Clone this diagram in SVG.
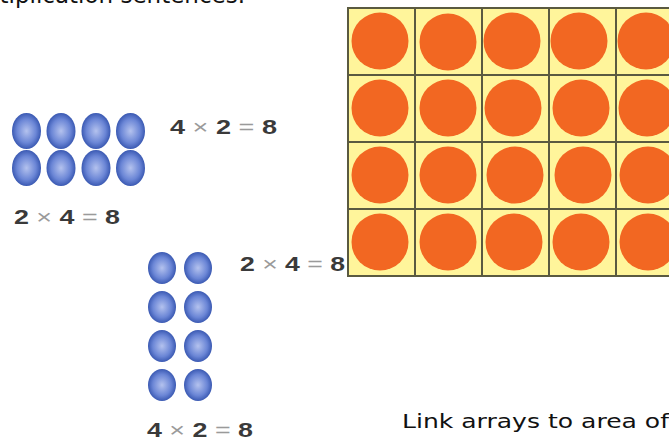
<svg xmlns="http://www.w3.org/2000/svg" width="669" height="440" viewBox="0 0 669 440">
<defs>
<radialGradient id="blue" cx="50%" cy="50%" r="55%">
<stop offset="0" stop-color="#b4c2ee"/>
<stop offset="0.6" stop-color="#6b86d6"/>
<stop offset="1" stop-color="#2c4ca8"/>
</radialGradient>
<style>
.eq{font-family:"Liberation Sans",Arial,sans-serif;font-size:21px;fill:#3a3a3a;font-weight:bold}
.op{fill:#9a9a9a;font-weight:normal}
.cap{font-family:"DejaVu Sans",sans-serif;font-size:20px;fill:#111}
.cell{fill:#fff59b;stroke:#5a5a40;stroke-width:2}
.dot{fill:#f26722}
.b{fill:url(#blue)}
</style>
</defs>
<rect width="669" height="440" fill="#fff"/>
<text class="cap" x="245" y="3" text-anchor="end" style="font-size:23px">multiplication sentences.</text>

<g id="grid">
<rect class="cell" x="348" y="8" width="67" height="67"/>
<rect class="cell" x="415" y="8" width="67" height="67"/>
<rect class="cell" x="482" y="8" width="67" height="67"/>
<rect class="cell" x="549" y="8" width="67" height="67"/>
<rect class="cell" x="616" y="8" width="67" height="67"/>
<rect class="cell" x="348" y="75" width="67" height="67"/>
<rect class="cell" x="415" y="75" width="67" height="67"/>
<rect class="cell" x="482" y="75" width="67" height="67"/>
<rect class="cell" x="549" y="75" width="67" height="67"/>
<rect class="cell" x="616" y="75" width="67" height="67"/>
<rect class="cell" x="348" y="142" width="67" height="67"/>
<rect class="cell" x="415" y="142" width="67" height="67"/>
<rect class="cell" x="482" y="142" width="67" height="67"/>
<rect class="cell" x="549" y="142" width="67" height="67"/>
<rect class="cell" x="616" y="142" width="67" height="67"/>
<rect class="cell" x="348" y="209" width="67" height="67"/>
<rect class="cell" x="415" y="209" width="67" height="67"/>
<rect class="cell" x="482" y="209" width="67" height="67"/>
<rect class="cell" x="549" y="209" width="67" height="67"/>
<rect class="cell" x="616" y="209" width="67" height="67"/>
<g>
<circle class="dot" cx="380" cy="41" r="28.5"/><circle class="dot" cx="448" cy="42" r="28.5"/><circle class="dot" cx="512" cy="41" r="28.5"/><circle class="dot" cx="579" cy="41" r="28.5"/><circle class="dot" cx="646" cy="41" r="28.5"/>
<circle class="dot" cx="380" cy="108" r="28.5"/><circle class="dot" cx="448" cy="108" r="28.5"/><circle class="dot" cx="513" cy="108" r="28.5"/><circle class="dot" cx="581" cy="108" r="28.5"/><circle class="dot" cx="647" cy="108" r="28.5"/>
<circle class="dot" cx="380" cy="175" r="28.5"/><circle class="dot" cx="448" cy="175" r="28.5"/><circle class="dot" cx="515" cy="175" r="28.5"/><circle class="dot" cx="583" cy="175" r="28.5"/><circle class="dot" cx="648" cy="175" r="28.5"/>
<circle class="dot" cx="380" cy="242" r="28.5"/><circle class="dot" cx="448" cy="242" r="28.5"/><circle class="dot" cx="514" cy="242" r="28.5"/><circle class="dot" cx="581" cy="242" r="28.5"/><circle class="dot" cx="648" cy="242" r="28.5"/>
</g>
</g>

<g id="array1">
<ellipse class="b" cx="26.5" cy="131" rx="14.5" ry="18"/><ellipse class="b" cx="61" cy="131" rx="14.5" ry="18"/><ellipse class="b" cx="96" cy="131" rx="14.5" ry="18"/><ellipse class="b" cx="130.5" cy="131" rx="14.5" ry="18"/>
<ellipse class="b" cx="26.5" cy="168" rx="14.5" ry="18"/><ellipse class="b" cx="61" cy="168" rx="14.5" ry="18"/><ellipse class="b" cx="96" cy="168" rx="14.5" ry="18"/><ellipse class="b" cx="130.5" cy="168" rx="14.5" ry="18"/>
<text class="eq" x="170" y="134" textLength="107" lengthAdjust="spacingAndGlyphs">4 <tspan class="op">×</tspan> 2 <tspan class="op">=</tspan> 8</text>
<text class="eq" x="14" y="224" textLength="106" lengthAdjust="spacingAndGlyphs">2 <tspan class="op">×</tspan> 4 <tspan class="op">=</tspan> 8</text>
</g>

<g id="array2">
<ellipse class="b" cx="162" cy="268" rx="14" ry="16"/><ellipse class="b" cx="198" cy="268" rx="14" ry="16"/>
<ellipse class="b" cx="162" cy="307" rx="14" ry="16"/><ellipse class="b" cx="198" cy="307" rx="14" ry="16"/>
<ellipse class="b" cx="162" cy="346" rx="14" ry="16"/><ellipse class="b" cx="198" cy="346" rx="14" ry="16"/>
<ellipse class="b" cx="162" cy="385" rx="14" ry="16"/><ellipse class="b" cx="198" cy="385" rx="14" ry="16"/>
<text class="eq" x="240" y="271" textLength="105" lengthAdjust="spacingAndGlyphs">2 <tspan class="op">×</tspan> 4 <tspan class="op">=</tspan> 8</text>
<text class="eq" x="147" y="437" textLength="106" lengthAdjust="spacingAndGlyphs">4 <tspan class="op">×</tspan> 2 <tspan class="op">=</tspan> 8</text>
</g>

<text class="cap" x="402" y="428" textLength="267" lengthAdjust="spacingAndGlyphs">Link arrays to area of</text>
</svg>
